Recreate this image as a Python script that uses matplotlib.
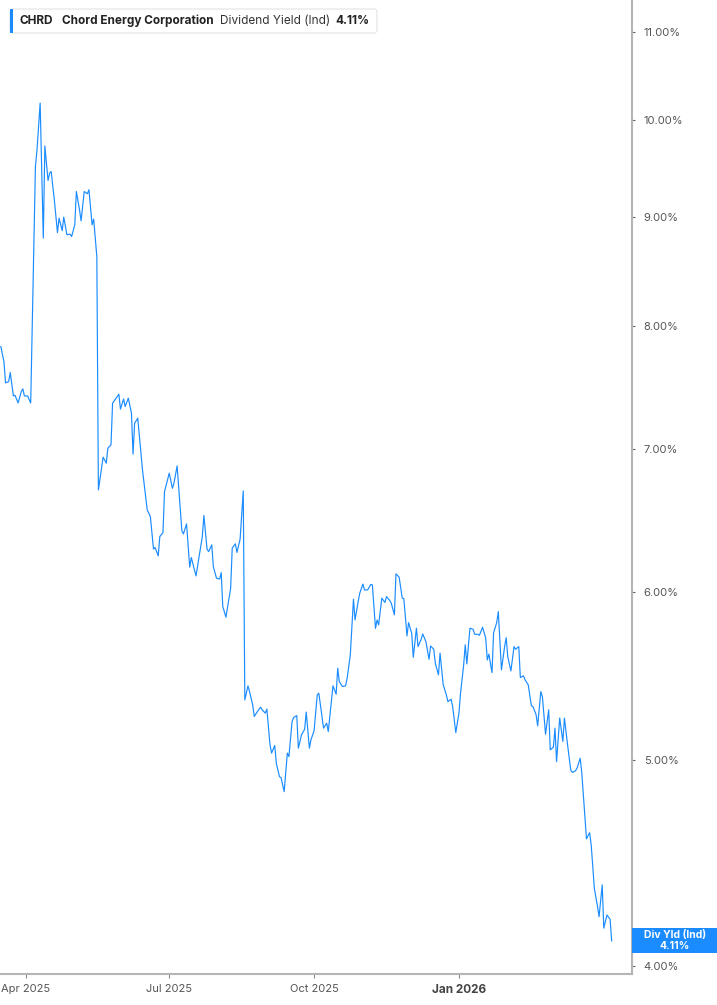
import matplotlib
matplotlib.use("Agg")
import numpy as np
import pandas as pd
import matplotlib.pyplot as plt
import matplotlib.dates as mdates
from matplotlib.patches import FancyBboxPatch, Rectangle
from matplotlib.ticker import FixedLocator, FuncFormatter, NullLocator

plt.rcParams['font.family'] = ['Inter', 'DejaVu Sans']

# dividend yield (%)
dates = [
    '2025-03-16', '2025-03-18', '2025-03-19', '2025-03-21', '2025-03-22', '2025-03-24',
    '2025-03-25', '2025-03-27', '2025-03-29', '2025-03-30', '2025-03-31', '2025-04-02',
    '2025-04-04', '2025-04-07', '2025-04-08', '2025-04-10', '2025-04-12', '2025-04-13',
    '2025-04-15', '2025-04-16', '2025-04-17', '2025-04-19', '2025-04-21', '2025-04-22',
    '2025-04-24', '2025-04-25', '2025-04-27', '2025-04-29', '2025-04-30', '2025-05-02',
    '2025-05-03', '2025-05-05', '2025-05-06', '2025-05-08', '2025-05-10', '2025-05-11',
    '2025-05-13', '2025-05-14', '2025-05-16', '2025-05-17', '2025-05-20', '2025-05-22',
    '2025-05-23', '2025-05-25', '2025-05-26', '2025-05-30', '2025-05-31', '2025-06-02',
    '2025-06-03', '2025-06-05', '2025-06-07', '2025-06-08', '2025-06-09', '2025-06-11',
    '2025-06-14', '2025-06-17', '2025-06-19', '2025-06-21', '2025-06-22', '2025-06-24',
    '2025-06-25', '2025-06-27', '2025-06-28', '2025-07-01', '2025-07-03', '2025-07-04',
    '2025-07-06', '2025-07-09', '2025-07-10', '2025-07-12', '2025-07-14', '2025-07-15',
    '2025-07-18', '2025-07-22', '2025-07-23', '2025-07-25', '2025-07-26', '2025-07-28',
    '2025-07-29', '2025-07-31', '2025-08-02', '2025-08-03', '2025-08-04', '2025-08-06',
    '2025-08-09', '2025-08-10', '2025-08-12', '2025-08-13', '2025-08-15', '2025-08-17',
    '2025-08-18', '2025-08-20', '2025-08-21', '2025-08-23', '2025-08-24', '2025-08-26',
    '2025-08-28', '2025-08-29', '2025-08-31', '2025-09-01', '2025-09-03', '2025-09-04',
    '2025-09-06', '2025-09-07', '2025-09-09', '2025-09-10', '2025-09-12', '2025-09-14',
    '2025-09-15', '2025-09-17', '2025-09-18', '2025-09-20', '2025-09-21', '2025-09-23',
    '2025-09-25', '2025-09-26', '2025-09-28', '2025-09-29', '2025-10-01', '2025-10-03',
    '2025-10-04', '2025-10-07', '2025-10-09', '2025-10-10', '2025-10-12', '2025-10-13',
    '2025-10-15', '2025-10-16', '2025-10-17', '2025-10-19', '2025-10-21', '2025-10-22',
    '2025-10-24', '2025-10-26', '2025-10-27', '2025-10-29', '2025-10-30', '2025-11-01',
    '2025-11-02', '2025-11-04', '2025-11-06', '2025-11-07', '2025-11-09', '2025-11-10',
    '2025-11-11', '2025-11-13', '2025-11-15', '2025-11-16', '2025-11-18', '2025-11-19',
    '2025-11-21', '2025-11-22', '2025-11-24', '2025-11-26', '2025-11-27', '2025-11-29',
    '2025-11-30', '2025-12-02', '2025-12-03', '2025-12-05', '2025-12-06', '2025-12-08',
    '2025-12-09', '2025-12-11', '2025-12-13', '2025-12-14', '2025-12-16', '2025-12-17',
    '2025-12-19', '2025-12-20', '2025-12-22', '2025-12-24', '2025-12-25', '2025-12-27',
    '2025-12-28', '2025-12-30', '2026-01-01', '2026-01-02', '2026-01-04', '2026-01-05',
    '2026-01-06', '2026-01-08', '2026-01-10', '2026-01-11', '2026-01-13', '2026-01-14',
    '2026-01-16', '2026-01-18', '2026-01-19', '2026-01-20', '2026-01-22', '2026-01-23',
    '2026-01-25', '2026-01-26', '2026-01-28', '2026-01-30', '2026-01-31', '2026-02-01',
    '2026-02-03', '2026-02-05', '2026-02-06', '2026-02-08', '2026-02-09', '2026-02-11',
    '2026-02-12', '2026-02-14', '2026-02-16', '2026-02-17', '2026-02-19', '2026-02-20',
    '2026-02-22', '2026-02-23', '2026-02-25', '2026-02-27', '2026-02-28', '2026-03-02',
    '2026-03-03', '2026-03-04', '2026-03-06', '2026-03-08', '2026-03-09', '2026-03-11',
    '2026-03-13', '2026-03-14', '2026-03-16', '2026-03-17', '2026-03-19', '2026-03-20',
    '2026-03-21', '2026-03-23', '2026-03-25', '2026-03-26', '2026-03-28', '2026-03-30',
    '2026-03-31', '2026-04-02', '2026-04-03', '2026-04-05', '2026-04-07', '2026-04-08',
]
div_yield = [
    7.825, 7.699, 7.523, 7.533, 7.608, 7.417,
    7.423, 7.361, 7.452, 7.474, 7.417, 7.417,
    7.361, 9.510, 9.683, 10.186, 8.800, 9.725,
    9.367, 9.442, 9.459, 9.173, 8.853, 8.993,
    8.872, 9.003, 8.832, 8.838, 8.815, 8.928,
    9.256, 9.074, 8.966, 9.256, 9.233, 9.273,
    8.928, 8.983, 8.626, 6.699, 6.941, 6.896,
    7.009, 7.034, 7.359, 7.431, 7.312, 7.393,
    7.332, 7.399, 7.280, 6.964, 7.201, 7.240,
    6.846, 6.556, 6.508, 6.283, 6.294, 6.237,
    6.369, 6.396, 6.687, 6.822, 6.711, 6.748,
    6.876, 6.410, 6.387, 6.457, 6.161, 6.226,
    6.103, 6.369, 6.516, 6.283, 6.266, 6.312,
    6.165, 6.088, 6.082, 6.125, 5.904, 5.836,
    6.022, 6.290, 6.319, 6.260, 6.351, 6.692,
    5.336, 5.418, 5.384, 5.307, 5.241, 5.269,
    5.294, 5.279, 5.260, 5.283, 5.082, 5.037,
    5.079, 4.982, 4.910, 4.905, 4.831, 5.037,
    5.018, 5.212, 5.235, 5.246, 5.064, 5.138,
    5.169, 5.266, 5.064, 5.110, 5.161, 5.365,
    5.375, 5.175, 5.203, 5.156, 5.326, 5.418,
    5.369, 5.522, 5.443, 5.414, 5.418, 5.463,
    5.603, 5.951, 5.819, 5.936, 5.990, 6.049,
    6.011, 6.011, 6.047, 6.044, 5.766, 5.819,
    5.788, 5.958, 5.930, 5.968, 5.943, 5.926,
    5.851, 6.117, 6.095, 5.958, 5.955, 5.719,
    5.802, 5.735, 5.588, 5.767, 5.653, 5.698,
    5.731, 5.684, 5.576, 5.657, 5.637, 5.552,
    5.483, 5.613, 5.424, 5.365, 5.326, 5.340,
    5.298, 5.150, 5.260, 5.375, 5.542, 5.664,
    5.548, 5.767, 5.760, 5.729, 5.729, 5.723,
    5.773, 5.705, 5.572, 5.607, 5.496, 5.739,
    5.802, 5.872, 5.512, 5.653, 5.708, 5.592,
    5.506, 5.653, 5.637, 5.653, 5.467, 5.477,
    5.453, 5.424, 5.302, 5.298, 5.251, 5.188,
    5.384, 5.355, 5.141, 5.279, 5.055, 5.070,
    5.175, 4.991, 5.232, 5.101, 5.232, 5.082,
    4.946, 4.933, 4.941, 4.955, 5.009, 4.933,
    4.814, 4.590, 4.621, 4.560, 4.351, 4.266,
    4.219, 4.367, 4.167, 4.227, 4.207, 4.110,
]
y_ticks = [4, 5, 6, 7, 8, 9, 10, 11]
x_ticks = ['2025-04-01', '2025-07-01', '2025-10-01', '2026-01-01']
x_tick_labels = ['Apr 2025', 'Jul 2025', 'Oct 2025', 'Jan 2026']
ticker = 'CHRD'
company = 'Chord Energy Corporation'
metric = 'Dividend Yield (Ind)'
last_value = '4.11%'

blue = '#1a8cff'
W, H = 717, 1005

fig = plt.figure(figsize=(W / 100, H / 100), dpi=100)
ax = fig.add_axes([0, 1 - 974 / H, 632 / W, 974 / H])

x = pd.to_datetime(dates)
ax.plot(x, div_yield, color=blue, linewidth=0.85)

ax.set_yscale('log')
ax.set_ylim(3.965, 11.39)
ax.set_xlim(pd.Timestamp('2025-03-15 12:00'), pd.Timestamp('2026-04-20 22:00'))

ax.yaxis.tick_right()
ax.yaxis.set_major_locator(FixedLocator(y_ticks))
ax.yaxis.set_minor_locator(NullLocator())
ax.yaxis.set_major_formatter(FuncFormatter(lambda v, p: '%.2f%%' % v))
ax.tick_params(axis='y', length=2.5, width=0.8, color='#666666', pad=6,
               labelsize=8, labelcolor='#555555')

ax.set_xticks(pd.to_datetime(x_ticks))
ax.set_xticklabels(x_tick_labels)
ax.xaxis.set_minor_locator(NullLocator())
ax.tick_params(axis='x', length=3, width=0.8, color='#888888', pad=4,
               labelsize=8, labelcolor='#555555')
lab = ax.get_xticklabels()[-1]
lab.set_fontweight('bold')
lab.set_fontsize(8.5)
lab.set_color('#444444')

for s in ['top', 'left']:
    ax.spines[s].set_visible(False)
for s in ['right', 'bottom']:
    ax.spines[s].set_color('#b5b5b5')
    ax.spines[s].set_linewidth(1.5)

# header box
hdr = FancyBboxPatch((10 / W, 1 - 33 / H), 367 / W, 24 / H,
                     boxstyle='round,pad=0,rounding_size=0.004',
                     transform=fig.transFigure, facecolor='white',
                     edgecolor='#e3e3e3', linewidth=0.8, zorder=5)
fig.patches.append(hdr)
fig.patches.append(Rectangle((10 / W, 1 - 33 / H), 3 / W, 24 / H,
                             transform=fig.transFigure, facecolor=blue,
                             edgecolor='none', zorder=6))
ty = 1 - 21 / H
fig.text(20 / W, ty, ticker, fontsize=8.5, fontweight='bold', color='#222222', va='center', zorder=7)
fig.text(62 / W, ty, company, fontsize=8.5, fontweight='bold', color='#222222', va='center', zorder=7)
fig.text(220 / W, ty, metric, fontsize=8.5, color='#333333', va='center', zorder=7)
fig.text(335 / W, ty, last_value, fontsize=8.5, fontweight='bold', color='#222222', va='center', zorder=7)

# last value badge
fig.patches.append(Rectangle((632 / W, 1 - 953 / H), 85 / W, 25 / H,
                             transform=fig.transFigure, facecolor=blue,
                             edgecolor='none', zorder=6))
fig.text(675 / W, 1 - 935 / H, 'Div Yld (Ind)', fontsize=7.5, fontweight='bold',
         color='white', ha='center', va='center', zorder=7)
fig.text(675 / W, 1 - 946 / H, last_value, fontsize=7.5, fontweight='bold',
         color='white', ha='center', va='center', zorder=7)

fig.savefig('out.png', dpi=100)
